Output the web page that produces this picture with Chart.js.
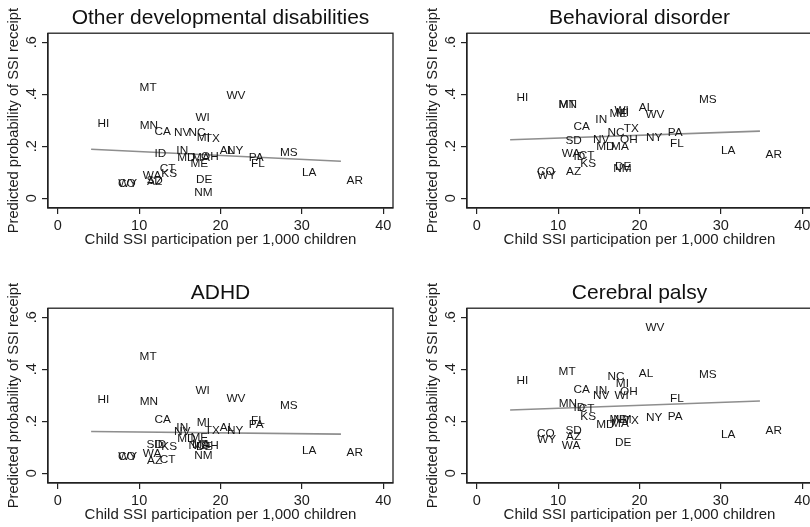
<!DOCTYPE html>
<html>
<head>
<meta charset="utf-8">
<script src="https://cdn.jsdelivr.net/npm/chart.js@4/dist/chart.umd.min.js"></script>
<style>
  html, body { margin: 0; padding: 0; background: #fff; }
  body { width: 810px; height: 527px; overflow: hidden; position: relative; }
  canvas { position: absolute; }
</style>
</head>
<body>
<canvas id="p1" width="405" height="263" style="left:0;top:0"></canvas>
<canvas id="p2" width="405" height="263" style="left:419px;top:0"></canvas>
<canvas id="p3" width="405" height="263" style="left:0;top:275px"></canvas>
<canvas id="p4" width="405" height="263" style="left:419px;top:275px"></canvas>
<script>
// states and child SSI participation (same x for every panel)
const states = ['AL','AR','AZ','CA','CO','CT','DE','FL','HI','ID','IN','KS','LA','MA','MD','ME',
                'MI','MN','MS','MT','NC','NM','NV','NY','OH','PA','SD','TX','WA','WI','WV','WY'];
const childSsi = [20.8, 36.5, 11.9, 12.9, 8.5, 13.5, 18.0, 24.6, 5.6, 12.6, 15.3, 13.7, 30.9, 17.6, 15.8, 17.4,
                  17.9, 11.2, 28.4, 11.1, 17.1, 17.9, 15.3, 21.8, 18.7, 24.4, 11.9, 19.0, 11.6, 17.8, 21.9, 8.6];

// predicted probability of SSI receipt, one array per condition
const otherDev = [0.183, 0.067, 0.063, 0.255, 0.056, 0.114, 0.072, 0.131, 0.287, 0.172, 0.181, 0.095, 0.097, 0.156, 0.156, 0.131,
                  0.232, 0.277, 0.174, 0.426, 0.250, 0.021, 0.250, 0.183, 0.158, 0.155, 0.066, 0.228, 0.086, 0.310, 0.393, 0.054];
const behavioral = [0.347, 0.168, 0.100, 0.276, 0.100, 0.164, 0.122, 0.209, 0.388, 0.158, 0.302, 0.132, 0.181, 0.199, 0.199, 0.325,
                    0.330, 0.359, 0.380, 0.360, 0.250, 0.112, 0.225, 0.233, 0.226, 0.250, 0.222, 0.269, 0.171, 0.337, 0.321, 0.085];
const adhd = [0.176, 0.077, 0.048, 0.207, 0.064, 0.050, 0.100, 0.201, 0.284, 0.111, 0.175, 0.100, 0.088, 0.110, 0.133, 0.137,
              0.194, 0.275, 0.259, 0.450, 0.105, 0.068, 0.161, 0.164, 0.106, 0.186, 0.111, 0.162, 0.073, 0.316, 0.287, 0.062];
const cerebralPalsy = [0.384, 0.163, 0.141, 0.322, 0.150, 0.248, 0.118, 0.288, 0.354, 0.252, 0.319, 0.216, 0.147, 0.192, 0.186, 0.207,
                       0.343, 0.269, 0.380, 0.390, 0.373, 0.205, 0.297, 0.214, 0.314, 0.216, 0.163, 0.202, 0.105, 0.297, 0.559, 0.130];

// fitted lines (endpoints)
const fitX = [4.1, 34.8];
const fitOtherDev = [0.188, 0.142];
const fitBehavioral = [0.225, 0.258];
const fitAdhd = [0.160, 0.150];
const fitCerebralPalsy = [0.243, 0.278];

const xTicks = [0, 10, 20, 30, 40];
const yTicks = [0, 0.2, 0.4, 0.6];
const yTickLabels = ['0', '.2', '.4', '.6'];

const FONT = "'Liberation Sans', Arial, Helvetica, sans-serif";
const INK = '#1c1c1c';

// state labels, rotated y tick labels, plot box
const stataPlugin = {
  id: 'stata',
  afterDatasetsDraw(chart) {
    const ctx = chart.ctx;
    const meta = chart.getDatasetMeta(1);
    ctx.save();
    ctx.font = "11.8px " + FONT;
    ctx.fillStyle = '#151515';
    ctx.textAlign = 'center';
    ctx.textBaseline = 'middle';
    meta.data.forEach((pt, i) => ctx.fillText(states[i], pt.x, pt.y));
    ctx.restore();
  },
  afterDraw(chart) {
    const ctx = chart.ctx;
    const a = chart.chartArea;
    const ys = chart.scales.y;
    ctx.save();
    ctx.strokeStyle = '#222';
    ctx.lineWidth = 1.3;
    ctx.strokeRect(a.left, a.top, a.right - a.left, a.bottom - a.top);
    ctx.font = "14.5px " + FONT;
    ctx.fillStyle = INK;
    ctx.textAlign = 'center';
    ctx.textBaseline = 'middle';
    yTicks.forEach((v, i) => {
      ctx.save();
      ctx.translate(a.left - 16, ys.getPixelForValue(v));
      ctx.rotate(-Math.PI / 2);
      ctx.fillText(yTickLabels[i], 0, 0);
      ctx.restore();
    });
    ctx.restore();
  }
};

function makePanel(id, title, values, fit) {
  const ctx = document.getElementById(id).getContext('2d');
  return new Chart(ctx, {
    type: 'scatter',
    data: {
      datasets: [
        {
          data: fitX.map((x, i) => ({ x: x, y: fit[i] })),
          showLine: true,
          borderColor: '#8e8e8e',
          borderWidth: 1.6,
          pointRadius: 0
        },
        {
          data: childSsi.map((x, i) => ({ x: x, y: values[i] })),
          pointRadius: 0,
          pointHoverRadius: 0
        }
      ]
    },
    options: {
      responsive: false,
      animation: false,
      events: [],
      layout: { padding: { left: 0, right: 12, top: 0, bottom: 0 } },
      plugins: {
        legend: { display: false },
        tooltip: { enabled: false },
        title: {
          display: true,
          text: title,
          fullSize: false,
          color: '#111',
          font: { family: FONT, size: 21, weight: 'normal' },
          padding: { top: 6, bottom: 2 }
        }
      },
      scales: {
        x: {
          type: 'linear',
          min: -1.2,
          max: 41.2,
          afterBuildTicks: s => { s.ticks = xTicks.map(v => ({ value: v })); },
          afterFit: s => { s.height = 55; },
          grid: { drawOnChartArea: false, drawTicks: true, tickLength: 6, color: '#222', lineWidth: 1.2 },
          border: { display: true, color: '#222', width: 1.2 },
          ticks: { color: INK, padding: 3, maxRotation: 0, font: { family: FONT, size: 14.5 } },
          title: {
            display: true,
            text: 'Child SSI participation per 1,000 children',
            color: INK,
            font: { family: FONT, size: 15 },
            padding: { top: 0, bottom: 14 }
          }
        },
        y: {
          type: 'linear',
          min: -0.038,
          max: 0.635,
          afterBuildTicks: s => { s.ticks = yTicks.map(v => ({ value: v })); },
          afterFit: s => { s.width = 48; },
          grid: { drawOnChartArea: false, drawTicks: true, tickLength: 6, color: '#222', lineWidth: 1.2 },
          border: { display: true, color: '#222', width: 1.2 },
          ticks: { display: false },
          title: {
            display: true,
            text: 'Predicted probability of SSI receipt',
            color: INK,
            font: { family: FONT, size: 14.7 },
            padding: { top: 5.5, bottom: 0 }
          }
        }
      }
    },
    plugins: [stataPlugin]
  });
}

makePanel('p1', 'Other developmental disabilities', otherDev, fitOtherDev);
makePanel('p2', 'Behavioral disorder', behavioral, fitBehavioral);
makePanel('p3', 'ADHD', adhd, fitAdhd);
makePanel('p4', 'Cerebral palsy', cerebralPalsy, fitCerebralPalsy);
</script>
</body>
</html>
